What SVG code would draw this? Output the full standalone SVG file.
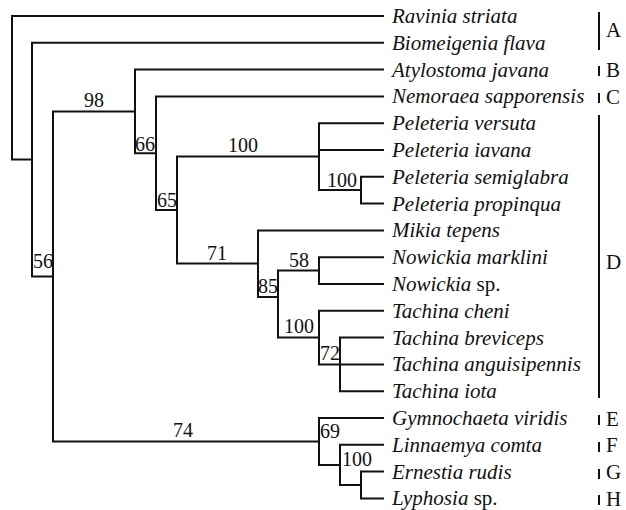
<svg xmlns="http://www.w3.org/2000/svg" width="626" height="510" viewBox="0 0 626 510">
<style>
.e{fill:none;stroke:#111;stroke-width:2;stroke-linejoin:miter;stroke-linecap:square}
.t{font-family:"Liberation Serif","Times New Roman",serif;font-size:21px;font-style:italic;fill:#111}
.r{font-style:normal}
.n{font-family:"Liberation Serif","Times New Roman",serif;font-size:20px;fill:#111}
.g{font-family:"Liberation Serif","Times New Roman",serif;font-size:21px;fill:#111}
.b{stroke:#111;stroke-width:2}
</style>
<rect width="626" height="510" fill="#fff"/>
<g id="connectors">
<path class="e" d="M383 16 H12 V159.6 H32"/>
<path class="e" d="M383 42.8 H32 V276.4 H53"/>
<path class="e" d="M135 111.4 H53 V441.4 H319"/>
<path class="e" d="M383 69.6 H135 V153.2 H156"/>
<path class="e" d="M383 96.4 H156 V210 H177"/>
<path class="e" d="M319 156.6 H177 V263.5 H258"/>
<path class="e" d="M383 123.2 H319 V190 H361"/>
<path class="e" d="M319 150 H383"/>
<path class="e" d="M383 176.8 H361 V203.6 H383"/>
<path class="e" d="M383 230.4 H258 V297 H278"/>
<path class="e" d="M319 270.6 H278 V337.6 H319"/>
<path class="e" d="M383 257.2 H319 V284 H383"/>
<path class="e" d="M383 310.8 H319 V364.4 H383"/>
<path class="e" d="M383 337.6 H340 V391.2 H383"/>
<path class="e" d="M383 418 H319 V464.9 H340"/>
<path class="e" d="M383 444.8 H340 V485 H361"/>
<path class="e" d="M383 471.6 H361 V498.4 H383"/>
</g>
<g id="support">
<text class="n" x="84" y="107">98</text>
<text class="n" x="33" y="268">56</text>
<text class="n" x="135" y="151">66</text>
<text class="n" x="157" y="207">65</text>
<text class="n" x="228" y="152">100</text>
<text class="n" x="327" y="187">100</text>
<text class="n" x="207" y="260">71</text>
<text class="n" x="258" y="293">85</text>
<text class="n" x="289" y="267">58</text>
<text class="n" x="284" y="333">100</text>
<text class="n" x="320" y="360">72</text>
<text class="n" x="173" y="437">74</text>
<text class="n" x="320" y="438">69</text>
<text class="n" x="342" y="466">100</text>
</g>
<g id="leaf-ravinia"><text class="t" x="392" y="23">Ravinia striata</text></g>
<g id="leaf-biomeigenia"><text class="t" x="392" y="49.8">Biomeigenia flava</text></g>
<g id="leaf-atylostoma"><text class="t" x="392" y="76.6">Atylostoma javana</text></g>
<g id="leaf-nemoraea"><text class="t" x="392" y="103.4">Nemoraea sapporensis</text></g>
<g id="leaf-pversuta"><text class="t" x="392" y="130.2">Peleteria versuta</text></g>
<g id="leaf-piavana"><text class="t" x="392" y="157">Peleteria iavana</text></g>
<g id="leaf-psemiglabra"><text class="t" x="392" y="183.8">Peleteria semiglabra</text></g>
<g id="leaf-ppropinqua"><text class="t" x="392" y="210.6">Peleteria propinqua</text></g>
<g id="leaf-mikia"><text class="t" x="392" y="237.4">Mikia tepens</text></g>
<g id="leaf-nmarklini"><text class="t" x="392" y="264.2">Nowickia marklini</text></g>
<g id="leaf-nsp"><text class="t" x="392" y="291">Nowickia<tspan class="r"> sp.</tspan></text></g>
<g id="leaf-tcheni"><text class="t" x="392" y="317.8">Tachina cheni</text></g>
<g id="leaf-tbreviceps"><text class="t" x="392" y="344.6">Tachina breviceps</text></g>
<g id="leaf-tanguisipennis"><text class="t" x="392" y="371.4">Tachina anguisipennis</text></g>
<g id="leaf-tiota"><text class="t" x="392" y="398.2">Tachina iota</text></g>
<g id="leaf-gymnochaeta"><text class="t" x="392" y="425">Gymnochaeta viridis</text></g>
<g id="leaf-linnaemya"><text class="t" x="392" y="451.8">Linnaemya comta</text></g>
<g id="leaf-ernestia"><text class="t" x="392" y="478.6">Ernestia rudis</text></g>
<g id="leaf-lyphosia"><text class="t" x="392" y="505.4">Lyphosia<tspan class="r"> sp.</tspan></text></g>
<g id="group-A"><line class="b" x1="599" y1="12" x2="599" y2="50"/><text class="g" x="606" y="37">A</text></g>
<g id="group-B"><line class="b" x1="599" y1="66" x2="599" y2="76"/><text class="g" x="606" y="77">B</text></g>
<g id="group-C"><line class="b" x1="599" y1="93" x2="599" y2="103"/><text class="g" x="606" y="104">C</text></g>
<g id="group-D"><line class="b" x1="599" y1="115" x2="599" y2="398"/><text class="g" x="606" y="269">D</text></g>
<g id="group-E"><line class="b" x1="599" y1="415" x2="599" y2="425"/><text class="g" x="606" y="426">E</text></g>
<g id="group-F"><line class="b" x1="599" y1="442" x2="599" y2="452"/><text class="g" x="606" y="452">F</text></g>
<g id="group-G"><line class="b" x1="599" y1="469" x2="599" y2="479"/><text class="g" x="606" y="479">G</text></g>
<g id="group-H"><line class="b" x1="599" y1="495" x2="599" y2="505"/><text class="g" x="606" y="506">H</text></g>
</svg>
